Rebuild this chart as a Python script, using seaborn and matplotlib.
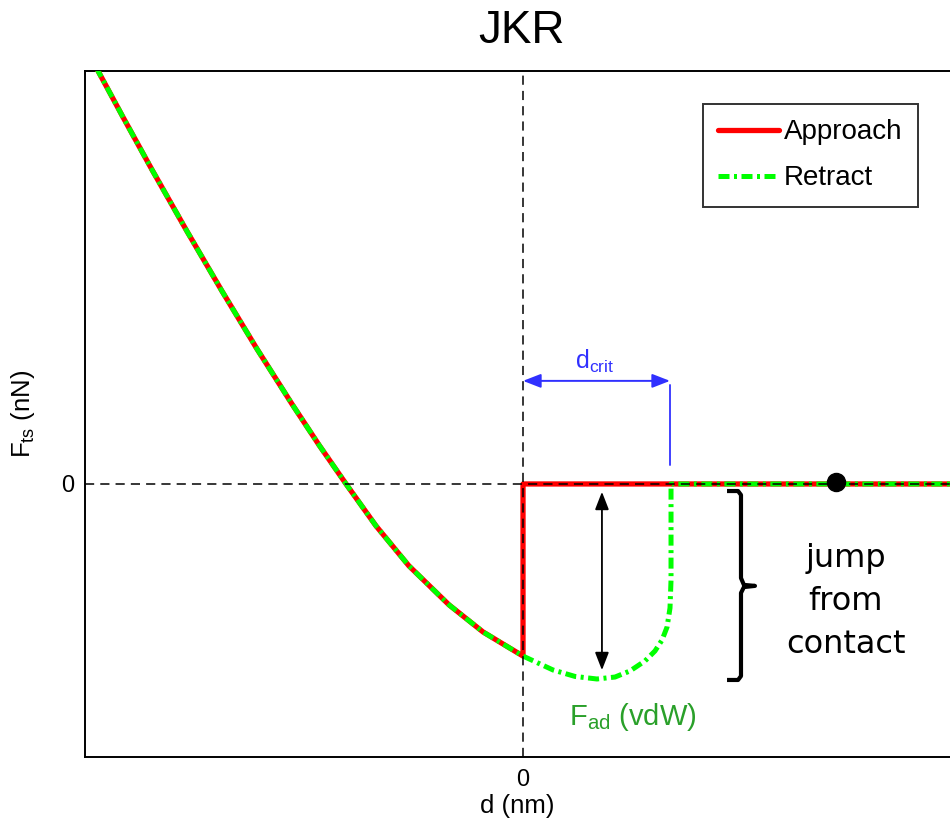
import numpy as np
import pandas as pd
import matplotlib
matplotlib.use("Agg")
import matplotlib.pyplot as plt
import seaborn as sns

# Tip-sample force vs. separation (JKR contact model), arbitrary units
curve_d = [-2.98, -2.891, -2.721, -2.524, -2.286, -2.048, -1.810, -1.571, -1.388,
           -1.204, -1.0, -0.776, -0.503, -0.272, 0.0]
curve_F = [2.230, 2.107, 1.871, 1.603, 1.289, 0.984, 0.689, 0.407, 0.199,
           0.0, -0.214, -0.418, -0.617, -0.755, -0.878]

# approach: jumps to zero force at the contact point, then stays flat
approach_tail_d = [0.0, 2.95]
approach_tail_F = [0.0, 0.0]

# retract: follows the neck down to pull-off, then flat
retract_tail_d = [0.204, 0.354, 0.503, 0.626, 0.728, 0.830, 0.898, 0.946, 0.980,
                  1.0, 1.007, 1.007, 2.95]
retract_tail_F = [-0.949, -0.982, -0.995, -0.985, -0.954, -0.903, -0.852, -0.796,
                  -0.730, -0.633, -0.490, 0.0, 0.0]

d_crit = 1.0
d_fad = 0.537
marker_d = 2.129

# bracket marking the jump from contact
bracket_d = [1.388, 1.463, 1.483, 1.483, 1.503, 1.578, 1.503, 1.483, 1.483, 1.463, 1.388]
bracket_F = [-0.036, -0.036, -0.056, -0.480, -0.515, -0.520, -0.526, -0.556, -0.980, -1.0, -1.0]

approach = pd.DataFrame({"d": curve_d + approach_tail_d,
                         "F": curve_F + approach_tail_F})
retract = pd.DataFrame({"d": curve_d + retract_tail_d,
                        "F": curve_F + retract_tail_F})

sns.set_theme(style="white")
plt.rcParams["font.family"] = ["Liberation Sans", "DejaVu Sans"]
plt.rcParams["mathtext.fontset"] = "custom"
plt.rcParams["mathtext.rm"] = "Liberation Sans"
plt.rcParams["mathtext.it"] = "Liberation Sans:italic"
plt.rcParams["text.color"] = "black"
plt.rcParams["axes.labelcolor"] = "black"

fig = plt.figure(figsize=(9.5, 8.23), dpi=100)
ax = fig.add_axes([85 / 950, 66 / 823, 865 / 950, 686 / 823])

sns.lineplot(data=approach, x="d", y="F", sort=False, estimator=None,
             color="#ff0000", lw=3.8, label="Approach", ax=ax, zorder=3)
sns.lineplot(data=retract, x="d", y="F", sort=False, estimator=None,
             color="#00ff00", lw=3.6, linestyle=(0, (2.2, 0.9, 0.6, 0.9)),
             dash_capstyle="butt", label="Retract", ax=ax, zorder=4)

# reference axes through the origin
ax.axvline(0, color="black", lw=1.1, ls=(0, (6, 4)), zorder=6)
ax.axhline(0, color="black", lw=1.1, ls=(0, (6, 4)), zorder=6)

ax.set_xlim(-2.98, 2.905)
ax.set_ylim(-1.393, 2.107)

# d_crit span
ax.annotate("", xy=(0, 0.526), xytext=(d_crit, 0.526),
            arrowprops=dict(arrowstyle="<|-|>,head_length=0.9,head_width=0.35",
                            color="#3030ff", lw=1.4, shrinkA=0, shrinkB=0),
            zorder=7)
ax.plot([d_crit, d_crit], [0.505, 0.097], color="#4040ff", lw=1.4, zorder=7)
ax.text(0.49, 0.625, r"d$_{\mathrm{crit}}$", color="#3030ff", fontsize=18,
        ha="center", va="center")

# adhesion force
ax.annotate("", xy=(d_fad, -0.04), xytext=(d_fad, -0.95),
            arrowprops=dict(arrowstyle="<|-|>,head_length=0.9,head_width=0.35",
                            color="black", lw=1.3, shrinkA=0, shrinkB=0),
            zorder=7)
ax.text(0.75, -1.19, r"F$_{\mathrm{ad}}$ (vdW)", color="#2aa02a", fontsize=21,
        ha="center", va="center")

ax.plot(bracket_d, bracket_F, color="black", lw=3.0, solid_joinstyle="round",
        solid_capstyle="butt", zorder=7)
ax.text(2.195, -0.6, "jump\nfrom\ncontact", fontsize=23, ha="center",
        va="center", linespacing=1.5, family="DejaVu Sans", color="black")

ax.plot([marker_d], [0.01], marker="o", markersize=13, color="black", zorder=8)

ax.set_xticks([0])
ax.set_yticks([0])
ax.set_xticklabels(["0"])
ax.set_yticklabels(["0"])
ax.tick_params(axis="both", direction="in", length=5, width=1.1,
               labelsize=17, colors="black")
ax.tick_params(axis="x", pad=9)
ax.tick_params(axis="y", pad=8)
for side in ["top", "left", "bottom"]:
    ax.spines[side].set_color("black")
    ax.spines[side].set_linewidth(1.4)
ax.spines["right"].set_visible(False)

ax.set_xlabel("d (nm)", fontsize=18.5, labelpad=2)
ax.set_ylabel(r"F$_{\mathrm{ts}}$ (nN)", fontsize=18.5, labelpad=17)
ax.set_title("JKR", fontsize=33, pad=20, color="black", x=0.505)

leg = ax.legend(loc="upper right", bbox_to_anchor=(918 / 950, (823 - 104) / 823),
                bbox_transform=fig.transFigure, borderaxespad=0, fontsize=20,
                handlelength=2.2, handletextpad=0.18, labelspacing=0.72,
                borderpad=0.55, frameon=True, fancybox=False)
leg.get_frame().set_edgecolor("black")
leg.get_frame().set_linewidth(1.4)

fig.savefig("out.png", dpi=100, facecolor="white")
